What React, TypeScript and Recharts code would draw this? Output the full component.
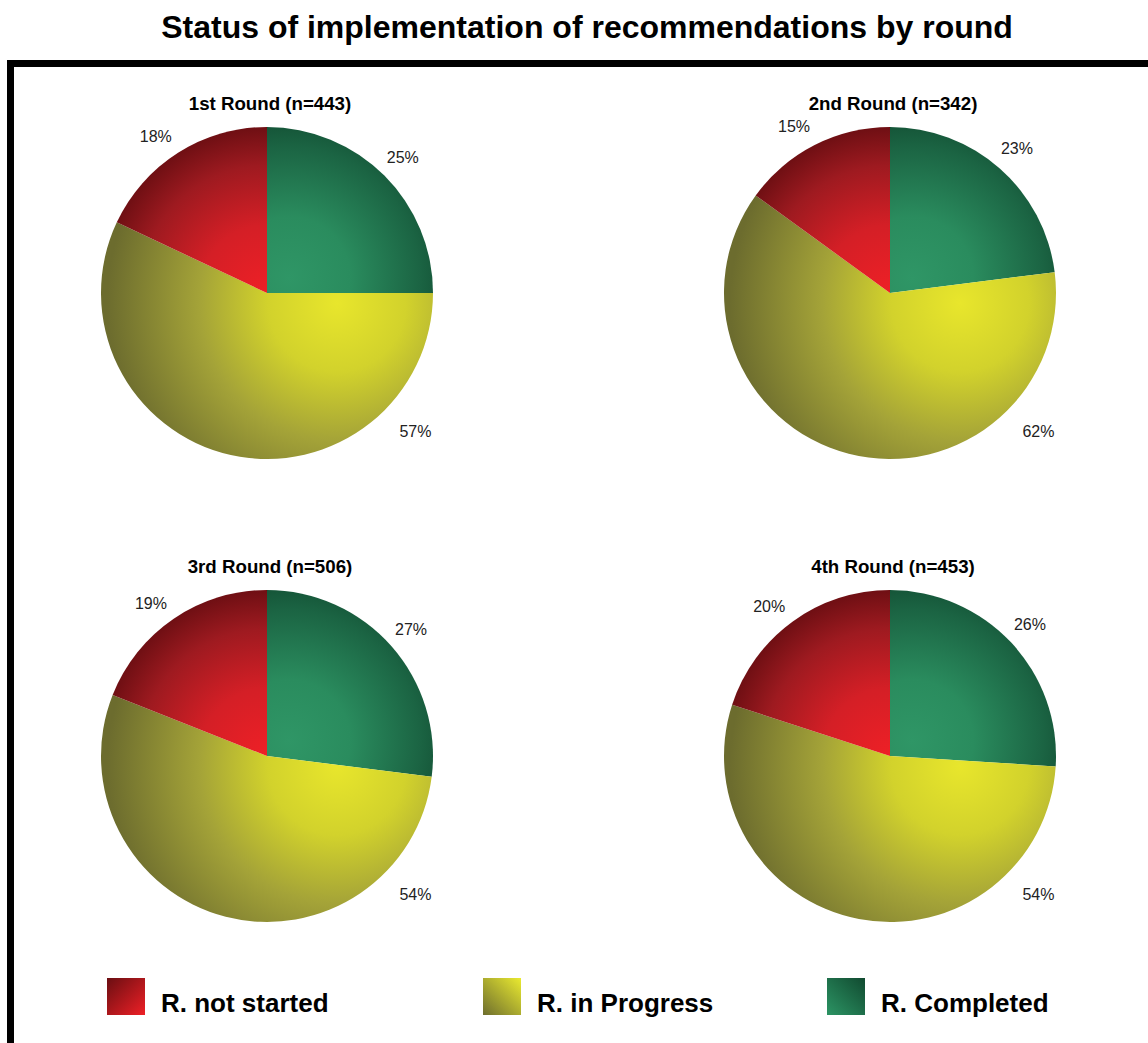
import React from 'react';
import { PieChart, Pie, Cell } from 'recharts';

const roundTitles = ['1st Round (n=443)', '2nd Round (n=342)', '3rd Round (n=506)', '4th Round (n=453)'];
const statusNames = ['R. Completed', 'R. in Progress', 'R. not started'];
const completed = [25, 23, 27, 26];
const inProgress = [57, 62, 54, 54];
const notStarted = [18, 15, 19, 20];
const legendOrder = ['R. not started', 'R. in Progress', 'R. Completed'];

const FONT = '"Liberation Sans", Arial, Helvetica, sans-serif';
const RAD = Math.PI / 180;

const fills: Record<string, string> = {
  'R. Completed': 'url(#gGreen)',
  'R. in Progress': 'url(#gYellow)',
  'R. not started': 'url(#gRed)',
};
const legendFills: Record<string, string> = {
  'R. Completed': 'url(#lGreen)',
  'R. in Progress': 'url(#lYellow)',
  'R. not started': 'url(#lRed)',
};

// chart boxes, pie centre sits at (250, 215) inside each
const boxes = [
  { left: 17, top: 78 },
  { left: 640, top: 78 },
  { left: 17, top: 541 },
  { left: 640, top: 541 },
];
const legendX = [107, 483, 827];

const renderLabel = (props: any) => {
  const { cx, cy, midAngle, outerRadius, value, percent } = props;
  const big = percent > 0.5;
  // big slice label sits bottom-right, left-side labels nudged a bit further round
  const angle = big ? -43 : midAngle + (Math.cos(midAngle * RAD) < 0 ? 3 : 0);
  const r = outerRadius + (big ? 37 : 26);
  const x = cx + r * Math.cos(-angle * RAD);
  const y = cy + r * Math.sin(-angle * RAD);
  return (
    <text x={x} y={y} textAnchor="middle" dominantBaseline="central" fontSize={16} fill="#222" fontFamily={FONT}>
      {value}%
    </text>
  );
};

const RoundPie = ({ idx }: { idx: number }) => {
  const data = statusNames.map((name, i) => ({
    name,
    value: [completed, inProgress, notStarted][i][idx],
  }));
  return (
    <PieChart
      width={500}
      height={430}
      margin={{ top: 0, right: 0, bottom: 0, left: 0 }}
      style={{ position: 'absolute', left: boxes[idx].left, top: boxes[idx].top }}
    >
      <Pie
        data={data}
        dataKey="value"
        nameKey="name"
        cx={250}
        cy={215}
        outerRadius={166}
        startAngle={90}
        endAngle={-270}
        stroke="none"
        label={renderLabel}
        labelLine={false}
        isAnimationActive={false}
      >
        {data.map((d) => (
          <Cell key={d.name} fill={fills[d.name]} />
        ))}
      </Pie>
    </PieChart>
  );
};

export default function App() {
  return (
    <div style={{ position: 'absolute', left: 0, top: 0, width: 1148, height: 1043, background: '#fff', overflow: 'hidden' }}>
      <svg width={1148} height={1043} style={{ position: 'absolute', left: 0, top: 0 }}>
        <defs>
          <radialGradient id="gGreen" gradientUnits="userSpaceOnUse" cx={272} cy={200} r={175}>
            <stop offset="0" stopColor="#2f9666" />
            <stop offset="0.35" stopColor="#2a8c5e" />
            <stop offset="0.75" stopColor="#1b6443" />
            <stop offset="1" stopColor="#0f462d" />
          </radialGradient>
          <radialGradient id="gYellow" gradientUnits="userSpaceOnUse" cx={320} cy={225} r={230}>
            <stop offset="0" stopColor="#e8e62c" />
            <stop offset="0.3" stopColor="#d2d22c" />
            <stop offset="0.6" stopColor="#a4a338" />
            <stop offset="1" stopColor="#6c6c2e" />
          </radialGradient>
          <radialGradient id="gRed" gradientUnits="userSpaceOnUse" cx={250} cy={215} r={170}>
            <stop offset="0" stopColor="#ee2026" />
            <stop offset="0.4" stopColor="#d41f26" />
            <stop offset="0.75" stopColor="#9e1a20" />
            <stop offset="1" stopColor="#6a0e12" />
          </radialGradient>
          <linearGradient id="lRed" x1="0" y1="0" x2="1" y2="1">
            <stop offset="0" stopColor="#6a0e12" />
            <stop offset="1" stopColor="#ee2026" />
          </linearGradient>
          <linearGradient id="lYellow" x1="0" y1="1" x2="1" y2="0">
            <stop offset="0" stopColor="#6e6e2e" />
            <stop offset="1" stopColor="#eaea30" />
          </linearGradient>
          <linearGradient id="lGreen" x1="1" y1="0" x2="0" y2="1">
            <stop offset="0" stopColor="#114a30" />
            <stop offset="1" stopColor="#2c9464" />
          </linearGradient>
        </defs>
        <text x={587} y={38} textAnchor="middle" fontSize={32} fontWeight="bold" fontFamily={FONT} fill="#000">
          Status of implementation of recommendations by round
        </text>
        <rect x={7} y={60} width={1141} height={7} fill="#000" />
        <rect x={7} y={60} width={7} height={983} fill="#000" />
        {roundTitles.map((t, i) => (
          <text
            key={t}
            x={boxes[i].left + 253}
            y={boxes[i].top + 32}
            textAnchor="middle"
            fontSize={18.7}
            fontWeight="bold"
            fontFamily={FONT}
            fill="#000"
          >
            {t}
          </text>
        ))}
        {legendOrder.map((name, i) => (
          <g key={name}>
            <rect x={legendX[i]} y={978} width={38} height={37} fill={legendFills[name]} />
            <text x={legendX[i] + 54} y={1012} fontSize={26} fontWeight="bold" fontFamily={FONT} fill="#000">
              {name}
            </text>
          </g>
        ))}
      </svg>
      {roundTitles.map((t, i) => (
        <RoundPie key={t} idx={i} />
      ))}
    </div>
  );
}
